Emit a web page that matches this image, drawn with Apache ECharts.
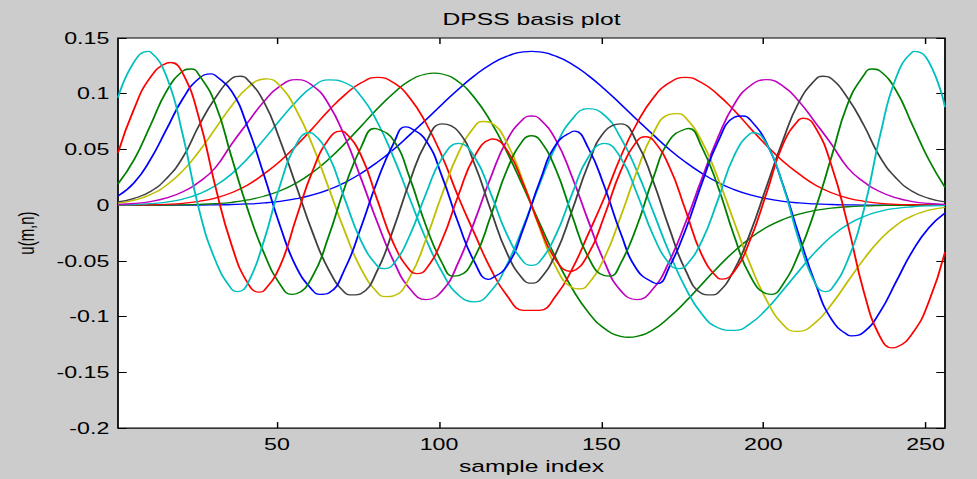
<!DOCTYPE html>
<html>
<head>
<meta charset="utf-8">
<script src="https://cdn.jsdelivr.net/npm/echarts@6.0.0/dist/echarts.min.js"></script>
<style>
  html, body { margin: 0; padding: 0; background: #cccccc; width: 977px; height: 479px; overflow: hidden; }
  #chart { width: 674px; height: 479px; transform: scaleX(1.4496); transform-origin: 0 0; }
</style>
</head>
<body>
<div id="chart"></div>
<script>
// sample index positions (every 5th sample)
const sampleIdx = [1,6,11,16,21,26,31,36,41,46,51,56,61,66,71,76,81,86,91,96,101,106,111,116,121,126,131,136,141,146,151,156,161,166,171,176,181,186,191,196,201,206,211,216,221,226,231,236,241,246,251,256];

const xTickValues = [50, 100, 150, 200, 250];

const dpss0 = [0,0,0,0,0.0001,0.0001,0.0003,0.0006,0.0011,0.0020,0.0035,0.0058,0.0092,0.0140,0.0204,0.0287,0.0386,0.0501,0.0632,0.0767,0.0907,0.1042,0.1164,0.1265,0.1337,0.1375,
  0.1375,0.1337,0.1265,0.1164,0.1042,0.0907,0.0767,0.0632,0.0501,0.0386,0.0287,0.0204,0.0140,0.0092,0.0058,0.0035,0.0020,0.0011,0.0006,0.0003,0.0001,0.0001,0,0,0,0];
const dpss1 = [0,0,0.0001,0.0001,0.0003,0.0007,0.0014,0.0026,0.0047,0.0080,0.0129,0.0199,0.0294,0.0414,0.0555,0.0710,0.0866,0.1005,0.1118,0.1177,0.1177,0.1106,0.0961,0.0746,0.0473,0.0162,
  -0.0162,-0.0473,-0.0746,-0.0961,-0.1106,-0.1177,-0.1177,-0.1118,-0.1005,-0.0866,-0.0710,-0.0555,-0.0414,-0.0294,-0.0199,-0.0129,-0.0080,-0.0047,-0.0026,-0.0014,-0.0007,-0.0003,-0.0001,-0.0001,0,0];
const dpss2 = [0.0001,0.0002,0.0004,0.0008,0.0017,0.0035,0.0064,0.0112,0.0182,0.0280,0.0395,0.0535,0.0690,0.0851,0.0991,0.1098,0.1147,0.1098,0.0961,0.0734,0.0434,0.0070,-0.0259,-0.0575,-0.0814,-0.0943,
  -0.0943,-0.0814,-0.0575,-0.0259,0.0070,0.0434,0.0734,0.0961,0.1098,0.1147,0.1098,0.0991,0.0851,0.0690,0.0535,0.0395,0.0280,0.0182,0.0112,0.0064,0.0035,0.0017,0.0008,0.0004,0.0002,0.0001];
const dpss3 = [0.0003,0.0006,0.0014,0.0028,0.0055,0.0101,0.0174,0.0280,0.0420,0.0589,0.0765,0.0932,0.1062,0.1124,0.1099,0.0975,0.0743,0.0426,0.0057,-0.0307,-0.0604,-0.0807,-0.0867,-0.0770,-0.0529,-0.0188,
  0.0188,0.0529,0.0770,0.0867,0.0807,0.0604,0.0307,-0.0057,-0.0426,-0.0743,-0.0975,-0.1099,-0.1124,-0.1062,-0.0932,-0.0765,-0.0589,-0.0420,-0.0280,-0.0174,-0.0101,-0.0055,-0.0028,-0.0014,-0.0006,-0.0003];
const dpss4 = [0.0007,0.0015,0.0032,0.0065,0.0120,0.0208,0.0336,0.0547,0.0742,0.0930,0.1070,0.1126,0.1073,0.0904,0.0608,0.0235,-0.0156,-0.0503,-0.0750,-0.0848,-0.0766,-0.0510,-0.0140,0.0254,0.0586,0.0775,
  0.0775,0.0586,0.0254,-0.0140,-0.0510,-0.0766,-0.0848,-0.0750,-0.0503,-0.0156,0.0235,0.0608,0.0904,0.1073,0.1126,0.1070,0.0930,0.0742,0.0547,0.0336,0.0208,0.0120,0.0065,0.0032,0.0015,0.0007];
const dpss5 = [0.0019,0.0045,0.0095,0.0180,0.0309,0.0483,0.0686,0.0890,0.1055,0.1132,0.1069,0.0852,0.0536,0.0152,-0.0241,-0.0574,-0.0785,-0.0814,-0.0644,-0.0304,0.0103,0.0471,0.0707,0.0739,0.0554,0.0205,
  -0.0205,-0.0554,-0.0739,-0.0707,-0.0471,-0.0103,0.0304,0.0644,0.0814,0.0785,0.0574,0.0241,-0.0152,-0.0536,-0.0852,-0.1069,-0.1132,-0.1055,-0.0890,-0.0686,-0.0483,-0.0309,-0.0180,-0.0095,-0.0045,-0.0019];
const dpss6 = [0.0029,0.0061,0.0123,0.0241,0.0429,0.0716,0.0962,0.1135,0.1125,0.0927,0.0579,0.0169,-0.0245,-0.0581,-0.0786,-0.0792,-0.0584,-0.0207,0.0216,0.0562,0.0730,0.0659,0.0364,-0.0049,-0.0434,-0.0668,
  -0.0668,-0.0434,-0.0049,0.0364,0.0659,0.0730,0.0562,0.0216,-0.0207,-0.0584,-0.0792,-0.0786,-0.0581,-0.0245,0.0169,0.0579,0.0927,0.1125,0.1135,0.0962,0.0716,0.0429,0.0241,0.0123,0.0061,0.0029];
const dpss7 = [0.0082,0.0203,0.0410,0.0683,0.0956,0.1138,0.1164,0.1024,0.0700,0.0272,-0.0187,-0.0557,-0.0764,-0.0788,-0.0569,-0.0193,0.0221,0.0555,0.0694,0.0578,0.0251,-0.0166,-0.0514,-0.0660,-0.0543,-0.0209,
  0.0209,0.0543,0.0660,0.0514,0.0166,-0.0251,-0.0578,-0.0694,-0.0555,-0.0221,0.0193,0.0569,0.0788,0.0764,0.0557,0.0187,-0.0272,-0.0700,-0.1024,-0.1164,-0.1138,-0.0956,-0.0683,-0.0410,-0.0203,-0.0070];
const dpss8 = [0.0191,0.0409,0.0716,0.1024,0.1203,0.1168,0.0909,0.0433,-0.0037,-0.0429,-0.0711,-0.0795,-0.0638,-0.0276,0.0167,0.0523,0.0684,0.0580,0.0242,-0.0188,-0.0522,-0.0632,-0.0465,-0.0091,0.0321,0.0587,
  0.0587,0.0321,-0.0091,-0.0465,-0.0632,-0.0522,-0.0188,0.0242,0.0580,0.0684,0.0523,0.0167,-0.0276,-0.0638,-0.0795,-0.0711,-0.0429,-0.0037,0.0433,0.0909,0.1168,0.1203,0.1024,0.0716,0.0409,0.0160];
const dpss9 = [0.0470,0.0868,0.1148,0.1275,0.1182,0.0779,0.0171,-0.0355,-0.0699,-0.0768,-0.0543,-0.0111,0.0307,0.0594,0.0654,0.0444,0.0044,-0.0346,-0.0585,-0.0573,-0.0307,0.0093,0.0441,0.0593,0.0491,0.0189,
  -0.0189,-0.0491,-0.0593,-0.0441,-0.0093,0.0307,0.0573,0.0585,0.0346,-0.0044,-0.0444,-0.0654,-0.0594,-0.0307,0.0111,0.0543,0.0768,0.0699,0.0355,-0.0171,-0.0779,-0.1182,-0.1275,-0.1148,-0.0868,-0.0420];
const dpss10 = [0.0965,0.1287,0.1376,0.1151,0.0628,-0.0039,-0.0493,-0.0752,-0.0702,-0.0319,0.0183,0.0547,0.0644,0.0445,0.0049,-0.0324,-0.0547,-0.0526,-0.0269,0.0106,0.0426,0.0555,0.0429,0.0100,-0.0268,-0.0507,
  -0.0507,-0.0268,0.0100,0.0429,0.0555,0.0426,0.0106,-0.0269,-0.0526,-0.0547,-0.0324,0.0049,0.0445,0.0644,0.0547,0.0183,-0.0319,-0.0702,-0.0752,-0.0493,-0.0039,0.0628,0.1151,0.1376,0.1287,0.0880];

// extra points read at the peaks / troughs of each curve: [sample index, value]
const peaks0 = [[128.5, 0.1380]];
const peaks1 = [[98.5, 0.1185], [158.5, -0.1185]];
const peaks2 = [[128.5, -0.0944]];
const peaks3 = [];
const peaks4 = [[128.5, 0.0800]];
const peaks5 = [[47, 0.1133], [83.5, -0.0821], [113.5, 0.0751], [143.5, -0.0751], [173.5, 0.0821], [210, -0.1133]];
const peaks6 = [[38.7, 0.1157], [73.3, -0.0805], [128.5, -0.0700], [183.7, -0.0805], [218.3, 0.1157]];
const peaks7 = [[29.8, 0.1178], [63.3, -0.0800], [89.6, 0.0703], [115.2, -0.0665], [141.8, 0.0665], [167.4, -0.0703], [193.7, 0.0800], [227.2, -0.1172]];
const peaks8 = [[23.6, 0.1222], [54.5, -0.0800], [80, 0.0688], [104.3, -0.0636], [128.5, 0.0623], [152.7, -0.0636], [177, 0.0688], [202.5, -0.0800], [233.4, 0.1222]];
const peaks9 = [[17.2, 0.1280], [44.6, -0.0780], [69.7, 0.0664], [93.3, -0.0614], [116.4, 0.0594], [140.6, -0.0594], [163.7, 0.0614], [187.3, -0.0664], [212.4, 0.0780], [239.8, -0.1280]];
const peaks10 = [[10.3, 0.1380], [37.9, -0.0775], [60, 0.0650], [83.1, -0.0570], [128.5, -0.0540], [173.9, -0.0570], [197, 0.0650], [219.1, -0.0775], [246.7, 0.1380]];

const seriesValues = [dpss0, dpss1, dpss2, dpss3, dpss4, dpss5, dpss6, dpss7, dpss8, dpss9, dpss10];
const seriesPeaks = [peaks0, peaks1, peaks2, peaks3, peaks4, peaks5, peaks6, peaks7, peaks8, peaks9, peaks10];
const lineColors = ['#0000ff', '#008000', '#ff0000', '#00bfbf', '#bf00bf', '#bfbf00', '#404040'];

const FONT = 'Liberation Sans, Arial, Helvetica, sans-serif';
const chart = echarts.init(document.getElementById('chart'), null, { renderer: 'svg' });

const series = seriesValues.map((vals, k) => {
  const pts = sampleIdx.map((x, i) => [x, vals[i]]).concat(seriesPeaks[k]);
  pts.sort((a, b) => a[0] - b[0]);
  const col = lineColors[k % lineColors.length];
  return {
    type: 'line',
    name: 'k=' + k,
    xAxisIndex: 0,
    yAxisIndex: 0,
    data: pts,
    showSymbol: false,
    smooth: 0.5,
    lineStyle: { width: 1.3, color: col },
    itemStyle: { color: col },
    emphasis: { disabled: true },
    silent: true
  };
});

const tickStyle = { color: '#000', width: 1 };

chart.setOption({
  animation: false,
  backgroundColor: '#cccccc',
  textStyle: { fontFamily: FONT },
  title: {
    text: 'DPSS basis plot',
    left: 366.7,
    top: 10,
    textAlign: 'center',
    padding: 0,
    textStyle: { fontFamily: FONT, fontSize: 17, fontWeight: 'normal', color: '#000' }
  },
  grid: {
    left: 81.4, right: 22.1, top: 38, bottom: 42,
    show: true, backgroundColor: '#ffffff', borderColor: '#000000', borderWidth: 1.2,
    containLabel: false
  },
  xAxis: [
    {
      type: 'value', min: 1, max: 256, position: 'bottom',
      axisLine: { show: false, onZero: false },
      axisTick: { show: true, inside: true, length: 6, lineStyle: tickStyle, customValues: xTickValues },
      axisLabel: { show: true, customValues: xTickValues, color: '#000', fontSize: 16, fontFamily: FONT, margin: 8 },
      splitLine: { show: false },
      name: 'sample index', nameLocation: 'middle', nameGap: 23,
      nameTextStyle: { color: '#000', fontSize: 17, fontFamily: FONT }
    },
    {
      type: 'value', min: 1, max: 256, position: 'top',
      axisLine: { show: false, onZero: false },
      axisTick: { show: true, inside: true, length: 6, lineStyle: tickStyle, customValues: xTickValues },
      axisLabel: { show: false },
      splitLine: { show: false }
    }
  ],
  yAxis: [
    {
      type: 'value', min: -0.2, max: 0.15, interval: 0.05, position: 'left',
      axisLine: { show: false, onZero: false },
      axisTick: { show: true, inside: true, length: 6, lineStyle: tickStyle },
      axisLabel: {
        color: '#000', fontSize: 16, fontFamily: FONT, margin: 6,
        formatter: v => String(Math.round(v * 100) / 100)
      },
      splitLine: { show: false },
      name: 'u(m,n)', nameLocation: 'middle', nameRotate: 90, nameGap: 56,
      nameTextStyle: { color: '#000', fontSize: 15, fontFamily: FONT }
    },
    {
      type: 'value', min: -0.2, max: 0.15, interval: 0.05, position: 'right',
      axisLine: { show: false, onZero: false },
      axisTick: { show: true, inside: true, length: 6, lineStyle: tickStyle },
      axisLabel: { show: false },
      splitLine: { show: false }
    }
  ],
  series: series
});
</script>
</body>
</html>
